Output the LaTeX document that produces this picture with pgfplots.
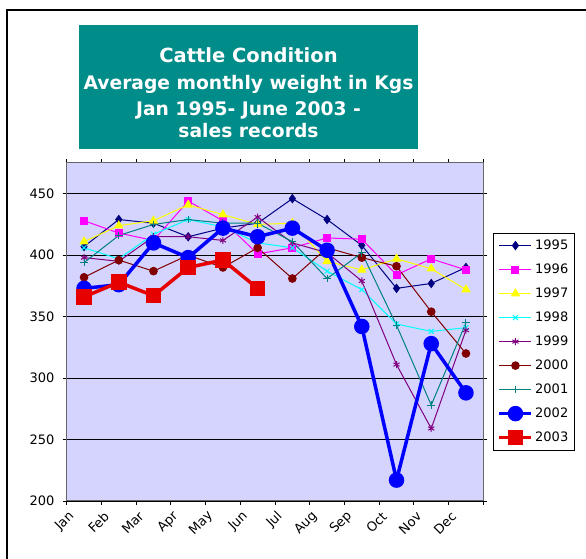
\documentclass[border=0pt]{standalone}
\usepackage{pgfplots}
\pgfplotsset{compat=1.18}
\usepackage{fontspec}
\setmainfont{DejaVu Sans}
\definecolor{bgplot}{RGB}{212,212,255}
\definecolor{titleteal}{RGB}{0,140,136}
\definecolor{c95}{RGB}{0,0,128}
\definecolor{c96}{RGB}{255,0,255}
\definecolor{c97}{RGB}{255,255,0}
\definecolor{c98}{RGB}{0,255,255}
\definecolor{c99}{RGB}{128,0,128}
\definecolor{c00}{RGB}{128,0,0}
\definecolor{c01}{RGB}{0,128,128}
\definecolor{c02}{RGB}{0,0,255}
\definecolor{c03}{RGB}{230,0,0}
\begin{document}
\begin{tikzpicture}[x=1bp,y=1bp]
\useasboundingbox (0,0) rectangle (586,559);
% outer frame
\draw[line width=1.2bp] (7,0) -- (7,549) -- (586,549);
% title box
\fill[titleteal] (78.7,410) rectangle (418,534.3);
\node[anchor=base, text=white, font=\fontsize{19.5bp}{22bp}\selectfont\bfseries, inner sep=0] at (248.5,496.3) {Cattle Condition};
\node[anchor=base, text=white, font=\fontsize{18.7bp}{21bp}\selectfont\bfseries, inner sep=0] at (248.5,469.7) {Average monthly weight in Kgs};
\node[anchor=base, text=white, font=\fontsize{18.7bp}{21bp}\selectfont\bfseries, inner sep=0] at (248.5,443) {Jan 1995- June 2003 -};
\node[anchor=base, text=white, font=\fontsize{18.7bp}{21bp}\selectfont\bfseries, inner sep=0] at (248.5,421.7) {sales records};
\begin{axis}[
  at={(66.7bp,58bp)}, anchor=south west,
  scale only axis, width=416.6bp, height=338bp,
  xmin=-0.5, xmax=11.5, ymin=200, ymax=475,
  axis background/.style={fill=bgplot},
  axis line style={draw=black!60, line width=1bp},
  ytick={200,250,...,450},
  ymajorgrids, grid style={black, line width=1.1bp},
  xtick={-0.5,0.5,...,11.5}, xticklabels={},
  extra x ticks={0,...,11},
  extra x tick labels={Jan,Feb,Mar,Apr,May,Jun,Jul,Aug,Sep,Oct,Nov,Dec},
  extra x tick style={major tick length=0pt, grid=none,
    xticklabel style={xshift=-12bp, yshift=-13bp, rotate=45, anchor=east, inner sep=0bp}},
  tick align=outside, major tick length=4bp,
  tick style={black, line width=0.8bp},
  /pgf/number format/assume math mode=true,
  ticklabel style={font=\fontsize{13bp}{15bp}\selectfont},
  yticklabel style={xshift=-4.7bp},
  legend style={at={(1.024,0.7938)}, anchor=north west, draw=black, line width=0.8bp,
    fill=white, font=\fontsize{13bp}{15bp}\selectfont, inner xsep=4bp, inner ysep=4bp,
    row sep=7bp, column sep=0bp,
    nodes={inner sep=2bp, text height=10bp, text depth=3bp}},
  legend cell align=left,
  legend image code/.code={\draw[mark repeat=2,mark phase=2,#1] plot coordinates {(0bp,0bp) (16bp,0bp) (32bp,0bp)};},
]
\addplot[c95, line width=1bp, mark=diamond*, mark size=4bp] coordinates {(0,407) (1,429) (2,426) (3,415) (4,422) (5,426) (6,446) (7,429) (8,408) (9,373) (10,377) (11,390)};
\addlegendentry{1995}
\addplot[c96, line width=1bp, mark=square*, mark size=3.5bp] coordinates {(0,428) (1,418) (2,412) (3,444) (4,428) (5,401) (6,406) (7,414) (8,413) (9,384) (10,397) (11,388)};
\addlegendentry{1996}
\addplot[c97, line width=1bp, mark=triangle*, mark size=4.5bp] coordinates {(0,411) (1,424) (2,428) (3,441) (4,433) (5,425) (6,426) (7,395) (8,388) (9,397) (10,389) (11,372)};
\addlegendentry{1997}
\addplot[c98, line width=1bp, mark=x, mark size=3.5bp] coordinates {(0,406) (1,397) (2,417) (3,429) (4,423) (5,410) (6,406) (7,387) (8,372) (9,344) (10,338) (11,341)};
\addlegendentry{1998}
\addplot[c99, line width=1bp, mark=asterisk, mark size=3.5bp] coordinates {(0,398) (1,395) (2,415) (3,415) (4,412) (5,431) (6,410) (7,402) (8,379) (9,311) (10,259) (11,339)};
\addlegendentry{1999}
\addplot[c00, line width=1bp, mark=*, mark size=3.8bp] coordinates {(0,382) (1,396) (2,387) (3,400) (4,390) (5,406) (6,381) (7,406) (8,398) (9,391) (10,354) (11,320)};
\addlegendentry{2000}
\addplot[c01, line width=1bp, mark=+, mark size=3.8bp] coordinates {(0,394) (1,416) (2,425) (3,429) (4,426) (5,426) (6,411) (7,381) (8,402) (9,343) (10,278) (11,345)};
\addlegendentry{2001}
\addplot[c02, line width=3.5bp, mark=*, mark size=6bp] coordinates {(0,373) (1,376) (2,410) (3,398) (4,422) (5,415) (6,422) (7,404) (8,342) (9,217) (10,328) (11,288)};
\addlegendentry{2002}
\addplot[c03, line width=3.5bp, mark=square*, mark size=6bp] coordinates {(0,366) (1,378) (2,367) (3,390) (4,396) (5,373)};
\addlegendentry{2003}
\end{axis}
\end{tikzpicture}
\end{document}
